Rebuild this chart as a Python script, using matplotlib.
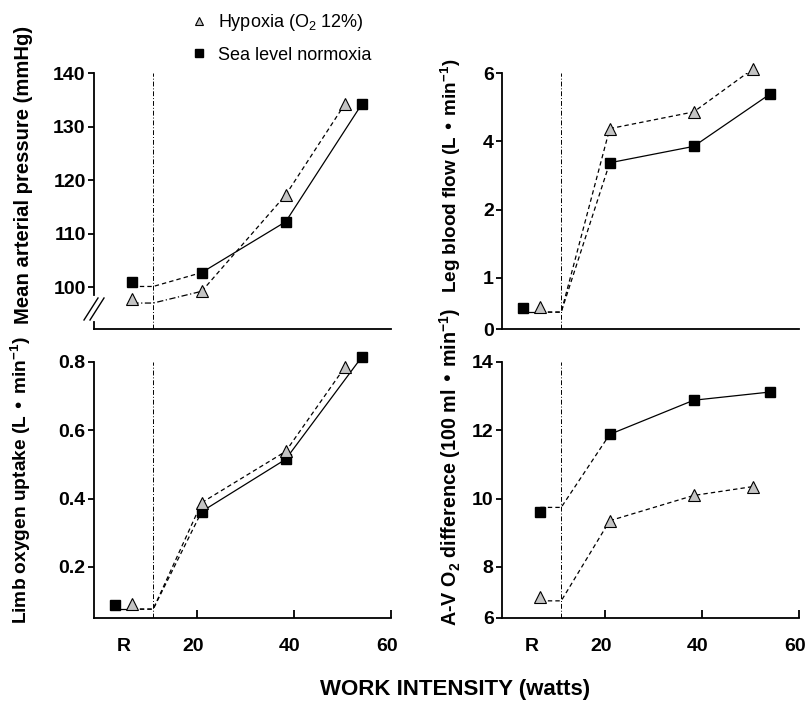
import numpy as np
import matplotlib.pyplot as plt
from matplotlib.lines import Line2D
from matplotlib.transforms import ScaledTranslation

plt.rcParams['font.family'] = ['Liberation Sans', 'DejaVu Sans']
plt.rcParams['font.weight'] = 'bold'
plt.rcParams['axes.labelweight'] = 'bold'
plt.rcParams['mathtext.default'] = 'regular'

# x positions (watts); rest values are drawn at the "R" column
work_norm = [21, 38.3, 54]
work_hyp = [21, 38.3, 50.5]
rest_x_shared = 6.7   # MAP and A-V O2: both groups in one column
rest_x_norm = 3.2     # leg flow / limb VO2: side by side
rest_x_hyp = 6.7
onset_x = 11          # dash-dot line = start of exercise
r_label_x = 5.7

# Mean arterial pressure (mmHg): rest, then the three workloads
map_norm = [101.0, 102.7, 112.2, 134.2]
map_hyp = [97.8, 99.2, 117.2, 134.2]
map_base = [100.1, 97.0]          # level of rest lines (norm, hyp)

# Leg blood flow (L/min)
leg_norm = [0.41, 3.37, 3.85, 5.38]
leg_hyp = [0.43, 4.37, 4.86, 6.12]
leg_base = 0.33

# Limb oxygen uptake (L/min)
vo2_norm = [0.088, 0.362, 0.515, 0.815]
vo2_hyp = [0.09, 0.388, 0.538, 0.785]
vo2_base = 0.076

# A-V O2 difference
avo2_norm = [9.62, 11.88, 12.88, 13.12]
avo2_hyp = [6.82, 9.35, 10.09, 10.35]
avo2_base = [9.74, 6.67]

# uneven tick spacing of the original y axes
leg_ticks = [0, 1, 2, 4, 6]
leg_grid = ([-1, 0, 1, 2, 4, 6, 10], [-51, 0, 51, 119, 187, 255, 391])
avo2_ticks = [6, 8, 10, 12, 14]
avo2_grid = ([4, 6, 8, 10, 14, 20], [-51, 0, 51, 119, 255, 459])

DASH = (0, (3.5, 2.5))
DASHDOT = (0, (5, 2, 1, 2))
norm_mk = dict(marker='s', ms=7, mfc='black', mec='black', ls='none', zorder=5, clip_on=False)
hyp_mk = dict(marker='^', ms=8, mfc='#c4c4c4', mec='black', mew=0.8, ls='none', zorder=5, clip_on=False)
LW = 0.9
TICK_FS = 14

fig = plt.figure(figsize=(8.07, 7.02), dpi=100)
W, H = 297 / 807, 256 / 702
ax_map = fig.add_axes([94 / 807, 1 - 329 / 702, W, H])
ax_leg = fig.add_axes([502 / 807, 1 - 329 / 702, W, H])
ax_vo2 = fig.add_axes([94 / 807, 1 - 618 / 702, W, H])
ax_av = fig.add_axes([502 / 807, 1 - 618 / 702, W, H])


def piecewise(grid):
    xs, ys = grid
    return (lambda v: np.interp(v, xs, ys), lambda v: np.interp(v, ys, xs))


def style(ax, bottom_row):
    ax.spines['top'].set_visible(False)
    ax.spines['right'].set_visible(False)
    ax.spines['left'].set_linewidth(1.3)
    ax.spines['bottom'].set_linewidth(1.3)
    ax.set_xlim(-1.2, 60)
    ax.tick_params(axis='y', direction='out', length=4.5, width=1.3, pad=1.5, labelsize=TICK_FS)
    ax.axvline(onset_x, color='black', lw=0.7, ls=DASHDOT, zorder=1)
    if bottom_row:
        ax.set_xticks([r_label_x, 20, 40, 60], ['R', '20', '40', '60'])
        ax.tick_params(axis='x', direction='in', length=6, width=1.3, pad=14.5, labelsize=TICK_FS)
        ax.xaxis.get_major_ticks()[0].tick1line.set_visible(False)
        shift = ScaledTranslation(-4 / 100, 0, fig.dpi_scale_trans)
        for lab in ax.get_xticklabels():
            lab.set_transform(lab.get_transform() + shift)
    else:
        ax.set_xticks([])


def series(ax, rx, vals, base, work, ls_rest, ls_work, mk):
    ax.plot([rx, onset_x, work[0]], [base, base, vals[1]], color='black', lw=LW, ls=ls_rest)
    ax.plot(work, vals[1:], color='black', lw=LW, ls=ls_work)
    ax.plot([rx] + list(work), vals, **mk)


# Mean arterial pressure, with a broken axis
style(ax_map, False)
ax_map.set_ylim(92.15, 140)
ax_map.set_yticks([100, 110, 120, 130, 140])
ax_map.spines['left'].set_bounds(98.5, 140)
ax_map.plot([0, 0], [0, 0.027], transform=ax_map.transAxes, color='black', lw=1.3, clip_on=False)
for dx in (-3, 3):
    ax_map.plot([(dx - 7) / 297, (dx + 7) / 297], [(20 - 11) / 256, (20 + 11) / 256],
                transform=ax_map.transAxes, color='black', lw=1.0, clip_on=False)
series(ax_map, rest_x_shared, map_norm, map_base[0], work_norm, DASH, '-', norm_mk)
series(ax_map, rest_x_shared, map_hyp, map_base[1], work_hyp, DASHDOT, DASH, hyp_mk)
ax_map.set_ylabel('Mean arterial pressure (mmHg)', fontsize=14.6)
ax_map.yaxis.set_label_coords(-0.205, 0.6)

# Leg blood flow
style(ax_leg, False)
ax_leg.set_yscale('function', functions=piecewise(leg_grid))
ax_leg.set_ylim(0, 6)
ax_leg.set_yticks(leg_ticks, [str(t) for t in leg_ticks])
ax_leg.plot([rest_x_norm, rest_x_hyp], [leg_base, leg_base], color='black', lw=LW)
series(ax_leg, rest_x_hyp, leg_norm, leg_base, work_norm, DASH, '-', dict(norm_mk, ms=0))
ax_leg.plot([rest_x_norm] + work_norm, leg_norm, **norm_mk)
series(ax_leg, rest_x_hyp, leg_hyp, leg_base, work_hyp, DASH, DASH, hyp_mk)
ax_leg.set_ylabel('Leg blood flow (L • min$^{-1}$)', fontsize=13.6)
ax_leg.yaxis.set_label_coords(-0.13, 0.6)

# Limb oxygen uptake
style(ax_vo2, True)
ax_vo2.set_ylim(0.05, 0.8)
ax_vo2.set_yticks([0.2, 0.4, 0.6, 0.8])
ax_vo2.plot([rest_x_norm, rest_x_hyp], [vo2_base, vo2_base], color='black', lw=LW)
series(ax_vo2, rest_x_hyp, vo2_norm, vo2_base, work_norm, DASH, '-', dict(norm_mk, ms=0))
ax_vo2.plot([rest_x_norm] + work_norm, vo2_norm, **norm_mk)
series(ax_vo2, rest_x_hyp, vo2_hyp, vo2_base, work_hyp, DASH, DASH, hyp_mk)
ax_vo2.set_ylabel('Limb oxygen uptake (L • min$^{-1}$)', fontsize=13.8)
ax_vo2.yaxis.set_label_coords(-0.205, 0.54)

# A-V O2 difference
style(ax_av, True)
ax_av.set_yscale('function', functions=piecewise(avo2_grid))
ax_av.set_ylim(6, 14)
ax_av.set_yticks(avo2_ticks, [str(t) for t in avo2_ticks])
series(ax_av, rest_x_shared, avo2_norm, avo2_base[0], work_norm, DASH, '-', norm_mk)
series(ax_av, rest_x_shared, avo2_hyp, avo2_base[1], work_hyp, DASH, DASH, hyp_mk)
ax_av.set_ylabel('A-V O$_2$ difference (100 ml • min$^{-1}$)', fontsize=14.2)
ax_av.yaxis.set_label_coords(-0.13, 0.59)

fig.text(455 / 807, 1 - 690 / 702, 'WORK INTENSITY (watts)', ha='center', va='center', fontsize=16)

handles = [Line2D([], [], **dict(hyp_mk, ms=6)), Line2D([], [], **dict(norm_mk, ms=6))]
fig.legend(handles, ['Hypoxia (O$_2$ 12%)', 'Sea level normoxia'], loc='upper left',
           bbox_to_anchor=(176 / 807, 1 + 4 / 702), frameon=False, handlelength=0.8,
           handletextpad=0.6, labelspacing=0.75, prop={'weight': 'normal', 'size': 13})

fig.savefig('out.png', dpi=100)
